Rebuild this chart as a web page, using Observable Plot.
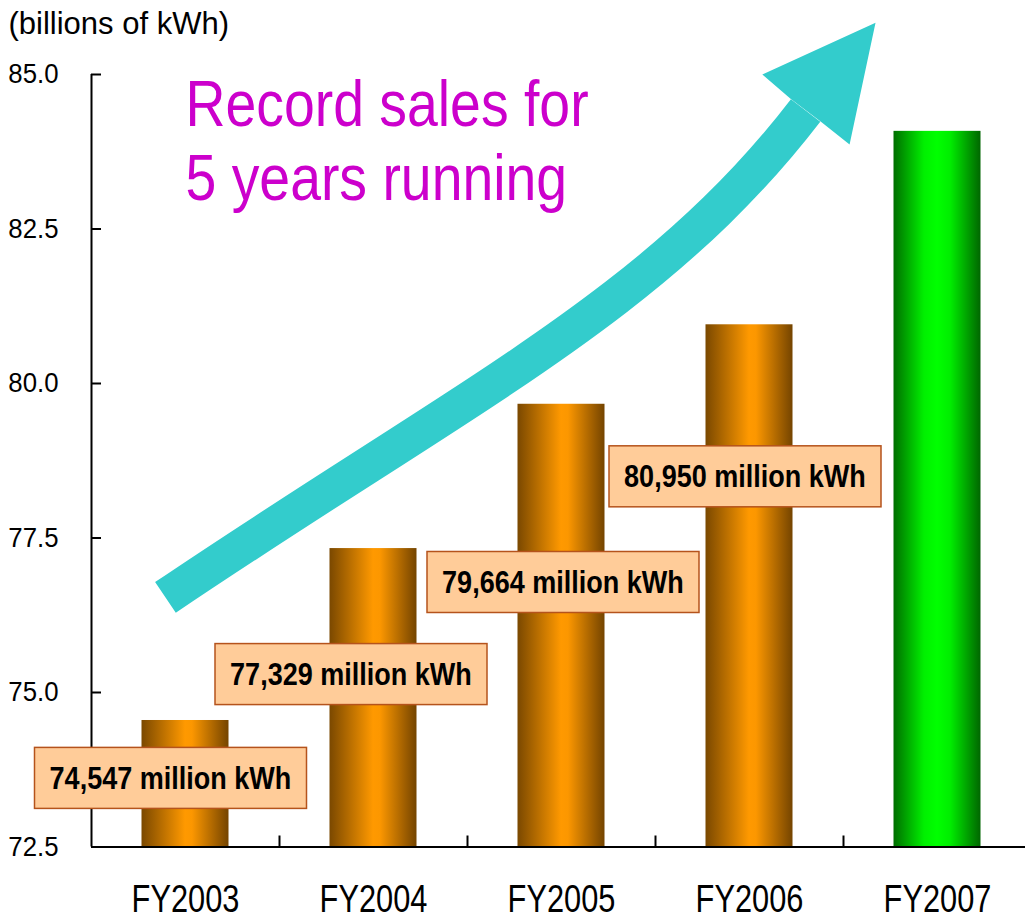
<!DOCTYPE html>
<html><head><meta charset="utf-8">
<script src="https://cdn.jsdelivr.net/npm/d3@7"></script>
<script src="https://cdn.jsdelivr.net/npm/@observablehq/plot@0.6"></script>
<style>body{margin:0;background:#fff}#chart svg{overflow:hidden;display:block}</style>
</head><body><div id="chart"></div>
<script>
// ---- data ----
const years = ["FY2003", "FY2004", "FY2005", "FY2006", "FY2007"];
const sales = [74.547, 77.329, 79.664, 80.950, 84.08]; // billions of kWh
const boxLabels = ["74,547 million kWh", "77,329 million kWh", "79,664 million kWh", "80,950 million kWh"];
const yTicks = [72.5, 75.0, 77.5, 80.0, 82.5, 85.0];
const yLabel = "(billions of kWh)";
const titleLines = ["Record sales for", "5 years running"];
// annotation anchors (category index, value)
const labelY = [73.61, 75.29, 76.78, 78.49];
const arrowShaft = [[-0.104, 76.53], [1.492, 79.81], [2.503, 81.25], [3.301, 84.41]];
const arrowHead = [[3.221, 84.60], [3.071, 84.99], [3.673, 85.83], [3.535, 83.86], [3.381, 84.23]];

// ---- layout / style ----
const W = 1025, H = 919, mL = 91, mR = -6, mT = 74, mB = 72.5;
const step = (W - mL - mR) / years.length;
const labelDx = [-14.5, -22, 2, -4];
const SANS = "'Liberation Sans',Arial,sans-serif";
const arrowColor = "#33cccc";
const yMin = yTicks[0], yMax = yTicks[yTicks.length - 1];

const data = years.map((year, i) => ({year, value: sales[i]}));

function defsMark() {
  const d = d3.create("svg:defs");
  d.html(`
    <linearGradient id="gOrange" x1="0" x2="1" y1="0" y2="0">
      <stop offset="0" stop-color="#7a4800"/>
      <stop offset="0.5" stop-color="#ff9900"/>
      <stop offset="0.58" stop-color="#fc9700"/>
      <stop offset="1" stop-color="#744400"/>
    </linearGradient>
    <linearGradient id="gGreen" x1="0" x2="1" y1="0" y2="0">
      <stop offset="0" stop-color="#006e00"/>
      <stop offset="0.35" stop-color="#00f000"/>
      <stop offset="0.5" stop-color="#00ff00"/>
      <stop offset="0.65" stop-color="#00ee00"/>
      <stop offset="1" stop-color="#006600"/>
    </linearGradient>`);
  return d.node();
}

function arrowMark(index, {x, y}) {
  const x0 = x(years[0]);
  const st = x.step ? x.step() : x.bandwidth();
  const px = ([i, v]) => [x0 + st * (i + 0.5), y(v)];
  const [p0, p1, p2, p3] = arrowShaft.map(px);
  const g = d3.create("svg:g");
  g.append("path")
    .attr("d", `M${p0}C${p1} ${p2} ${p3}`)
    .attr("fill", "none").attr("stroke", arrowColor).attr("stroke-width", 37);
  g.append("path")
    .attr("d", "M" + arrowHead.map(px).join("L") + "Z")
    .attr("fill", arrowColor);
  return g.node();
}

function labelMark(index, {x, y}) {
  const g = d3.create("svg:g").attr("class", "boxlabels");
  const bw = x.bandwidth();
  boxLabels.forEach((t, i) => {
    const cx = x(years[i]) + bw / 2 + labelDx[i], cy = y(labelY[i]);
    g.append("rect")
      .attr("x", cx - 136).attr("y", cy - 30.5).attr("width", 272).attr("height", 61)
      .attr("fill", "#ffcc99").attr("stroke", "#b5531c").attr("stroke-width", 1.5);
    g.append("text")
      .attr("x", cx).attr("y", cy).attr("dy", "0.36em")
      .attr("text-anchor", "middle")
      .attr("font-family", SANS).attr("font-weight", "bold").attr("font-size", 30.5)
      .attr("fill", "#000").text(t);
  });
  return g.node();
}

const chart = Plot.plot({
  width: W, height: H,
  marginLeft: mL, marginRight: mR, marginTop: mT, marginBottom: mB,
  style: {fontFamily: SANS, background: "#fff", color: "#000"},
  x: {domain: years, padding: 0, label: null},
  y: {domain: [yMin, yMax], label: null},
  marks: [
    defsMark,
    Plot.barY(data.filter(d => d.year !== "FY2007"), {x: "year", y1: yMin, y2: "value", fill: "url(#gOrange)", insetLeft: 50.5, insetRight: 50.5}),
    Plot.barY(data.filter(d => d.year === "FY2007"), {x: "year", y1: yMin, y2: "value", fill: "url(#gGreen)", insetLeft: 50.5, insetRight: 50.5}),
    Plot.axisY({ticks: yTicks, tickSize: 0, tickPadding: 33, tickFormat: d3.format(".1f"), fontSize: 28, label: null}),
    Plot.axisX({tickSize: 0, tickPadding: 38, fontSize: 38, label: null}),
    Plot.ruleY(yTicks, {insetRight: (W - mL - mR) - 10, strokeWidth: 2, stroke: "#000"}),
    Plot.ruleX(years.slice(1), {y1: yMin, y2: yMin, insetTop: -11, dx: -step / 2, strokeWidth: 2, stroke: "#000"}),
    Plot.ruleY([yMin], {strokeWidth: 2, stroke: "#000"}),
    Plot.ruleX([years[0]], {y1: yMin, y2: yMax, dx: -step / 2, strokeWidth: 2, stroke: "#000"}),
    arrowMark,
    labelMark,
    Plot.text([titleLines[0]], {text: d => d, frameAnchor: "top-left", dx: 94, dy: 6, lineAnchor: "top", textAnchor: "start", fontSize: 64, fill: "#cc00cc"}),
    Plot.text([titleLines[1]], {text: d => d, frameAnchor: "top-left", dx: 94, dy: 80.5, lineAnchor: "top", textAnchor: "start", fontSize: 64, fill: "#cc00cc"}),
    Plot.text([yLabel], {text: d => d, frameAnchor: "top-left", dx: -83, dy: -50, lineAnchor: "middle", textAnchor: "start", fontSize: 31, fill: "#000"})
  ]
});
document.getElementById("chart").append(chart);

// condense glyphs horizontally to match the narrow face of the original
function squeeze(match, k) {
  chart.querySelectorAll("text").forEach(t => {
    if (!match(t)) return;
    const L = t.getComputedTextLength();
    if (L > 0) {
      t.setAttribute("textLength", L * k);
      t.setAttribute("lengthAdjust", "spacingAndGlyphs");
    }
  });
}
const inGroup = label => t => t.closest(`g[aria-label="${label}"]`) !== null;
squeeze(t => titleLines.includes(t.textContent), 0.865);
squeeze(inGroup("x-axis tick label"), 0.81);
squeeze(inGroup("y-axis tick label"), 0.92);
squeeze(t => t.closest("g.boxlabels") !== null, 0.886);
</script>
</body></html>
